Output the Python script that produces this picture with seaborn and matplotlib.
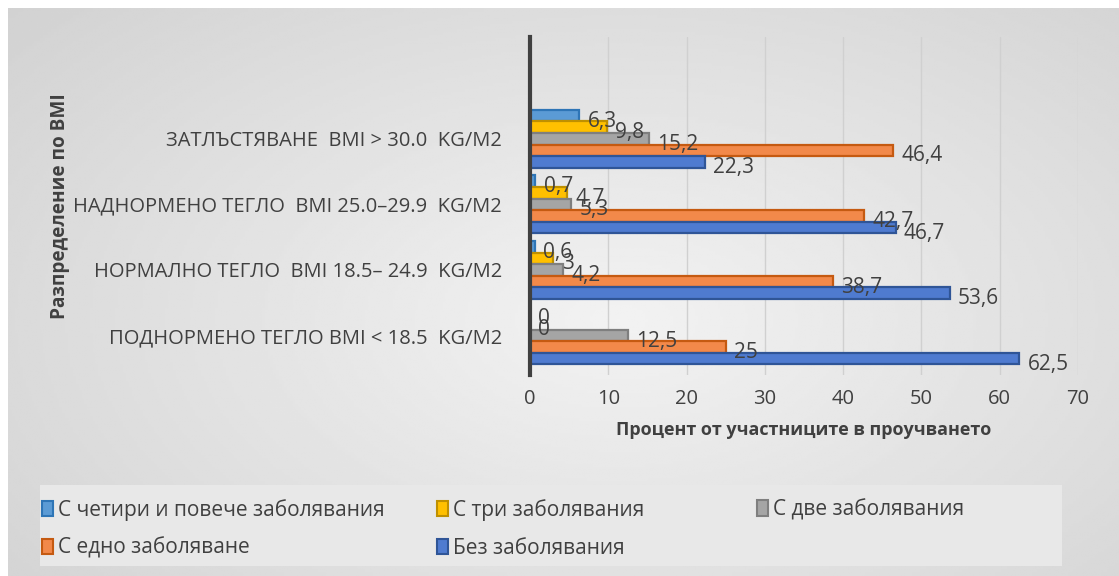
import numpy as np
import pandas as pd
import matplotlib.pyplot as plt
import matplotlib.patches as mpatches
import seaborn as sns

categories = [
    "ЗАТЛЪСТЯВАНЕ  BMI > 30.0  KG/M2",
    "НАДНОРМЕНО ТЕГЛО  BMI 25.0–29.9  KG/M2",
    "НОРМАЛНО ТЕГЛО  BMI 18.5– 24.9  KG/M2",
    "ПОДНОРМЕНО ТЕГЛО BMI < 18.5  KG/M2",
]
series = [
    "С четири и повече заболявания",
    "С три заболявания",
    "С две заболявания",
    "С едно заболяване",
    "Без заболявания",
]
four_plus = [6.3, 0.7, 0.6, 0]
three = [9.8, 4.7, 3, 0]
two = [15.2, 5.3, 4.2, 12.5]
one = [46.4, 42.7, 38.7, 25]
none_ = [22.3, 46.7, 53.6, 62.5]
x_ticks = [0, 10, 20, 30, 40, 50, 60, 70]

fills = ["#5B9BD5", "#FFC000", "#A5A5A5", "#F2894A", "#4F7BD0"]
edges = ["#2E75B6", "#BF9000", "#7F7F7F", "#C55A11", "#2F5597"]

values = [four_plus, three, two, one, none_]
df = pd.DataFrame({
    "category": [c for _ in series for c in categories],
    "series": [s for s in series for _ in categories],
    "value": [v for vals in values for v in vals],
})

sns.set_theme(style="white")
plt.rcParams["font.family"] = ["Open Sans", "DejaVu Sans"]
text_col = "#404040"

fig = plt.figure(figsize=(11.19, 5.76), dpi=100)
fig.patch.set_facecolor("white")

# background gradient panel
bg = fig.add_axes([0, 0, 1, 1], zorder=-10)
yy, xx = np.mgrid[0:1:200j, 0:1:400j]
r = np.sqrt(((xx - 0.55) / 0.75) ** 2 + ((yy - 0.55) / 0.85) ** 2)
shade = 0.95 - 0.13 * np.clip(r, 0, 1.2)
bg.imshow(shade, cmap="gray", vmin=0, vmax=1, aspect="auto",
          extent=[8 / 1119, 1, 0, 1 - 8 / 576], origin="upper")
bg.set_xlim(0, 1)
bg.set_ylim(0, 1)
bg.axis("off")
bg.add_patch(mpatches.Rectangle((40 / 1119, 1 - 566 / 576), 1022 / 1119, 81 / 576,
                                facecolor="#e8e8e8", edgecolor="none"))

ax = fig.add_axes([530 / 1119, 1 - 375 / 576, 548 / 1119, 338 / 576])
ax.patch.set_alpha(0)

sns.barplot(data=df, y="category", x="value", hue="series", orient="h",
            order=categories, hue_order=series, palette=dict(zip(series, fills)),
            width=0.88, saturation=1, ax=ax, legend=False)

for cont, vals, ec in zip(ax.containers, values, edges):
    for patch, v in zip(cont, vals):
        patch.set_edgecolor(ec)
        patch.set_linewidth(1.6)
        y = patch.get_y() + patch.get_height() / 2
        ax.annotate(f"{v:g}".replace(".", ","), (patch.get_width(), y),
                    xytext=(6, -4), textcoords="offset points",
                    ha="left", va="center", fontsize=15, color=text_col)

ax.set_xlim(0, 70)
ax.set_ylim(3.6, -1.55)
ax.set_xticks(x_ticks)
ax.xaxis.grid(True, color="#d0d0d0", linewidth=1)
ax.set_axisbelow(True)
for s in ["top", "right", "bottom"]:
    ax.spines[s].set_visible(False)
ax.spines["left"].set_color("#404040")
ax.spines["left"].set_linewidth(3)
ax.tick_params(axis="both", length=0, colors=text_col)
ax.tick_params(axis="y", labelsize=14.5, pad=20)
ax.tick_params(axis="x", labelsize=14.5, pad=10)
ax.set_ylabel("")
ax.set_xlabel("Процент от участниците в проучването", fontsize=13,
              fontweight="bold", color=text_col, labelpad=9)

fig.text(60 / 1119, 1 - 206 / 576, "Разпределение по BMI", rotation=90,
         ha="center", va="center", fontsize=13.7, fontweight="bold", color=text_col)

# legend in three columns placed like the original
handles = {s: mpatches.Patch(facecolor=f, edgecolor=e, linewidth=1.5)
           for s, f, e in zip(series, fills, edges)}
cols = [([series[0], series[3]], 42), ([series[1], series[4]], 437), ([series[2]], 757)]
for names, xpix in cols:
    leg = fig.legend([handles[n] for n in names], names,
                     loc="upper left", bbox_to_anchor=(xpix / 1119, 1 - 499 / 576),
                     frameon=False, fontsize=15, labelspacing=0.8,
                     handlelength=0.55, handleheight=0.75, handletextpad=0.2,
                     borderpad=0, borderaxespad=0)
    for t in leg.get_texts():
        t.set_color(text_col)

fig.savefig("out.png", dpi=100)
